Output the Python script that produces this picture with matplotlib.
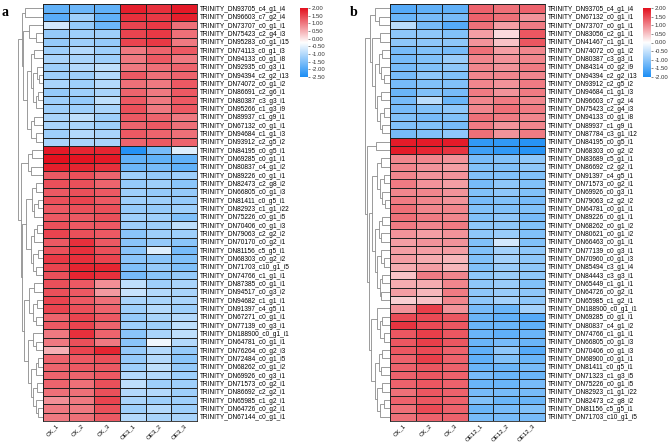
import matplotlib
matplotlib.use("Agg")
import numpy as np
import matplotlib.pyplot as plt
from matplotlib.colors import LinearSegmentedColormap

plt.rcParams["font.family"] = ["Liberation Sans", "DejaVu Sans"]

# ---------------- panel a ----------------
cols_a = ["CK_1", "CK_2", "CK_3", "OE3_1", "OE3_2", "OE3_3"]
genes_a = [
    "DN93705_c4_g1_i4", "DN96603_c7_g2_i4", "DN73707_c0_g1_i1", "DN75423_c2_g4_i3",
    "DN95283_c0_g1_i15", "DN74113_c0_g1_i3", "DN94133_c0_g1_i8", "DN92935_c0_g3_i1",
    "DN94394_c2_g2_i13", "DN74072_c0_g1_i2", "DN86691_c2_g6_i1", "DN80387_c3_g3_i1",
    "DN95266_c1_g3_i9", "DN89937_c1_g9_i1", "DN67132_c0_g1_i1", "DN94684_c1_g1_i3",
    "DN93912_c2_g5_i2", "DN84195_c0_g5_i1", "DN69285_c0_g1_i1", "DN80837_c4_g1_i2",
    "DN89226_c0_g1_i1", "DN82473_c2_g8_i2", "DN66805_c0_g1_i3", "DN81411_c0_g5_i1",
    "DN82923_c1_g1_i22", "DN75226_c0_g1_i5", "DN70406_c0_g1_i3", "DN79063_c2_g2_i2",
    "DN70170_c0_g2_i1", "DN81156_c5_g5_i1", "DN68303_c0_g2_i2", "DN71703_c10_g1_i5",
    "DN74766_c1_g1_i1", "DN87385_c0_g1_i1", "DN94517_c0_g3_i2", "DN94682_c1_g1_i1",
    "DN91397_c4_g5_i1", "DN67271_c0_g1_i1", "DN77139_c0_g3_i1", "DN188900_c0_g1_i1",
    "DN64781_c0_g1_i1", "DN76264_c0_g2_i3", "DN72484_c0_g1_i5", "DN68262_c0_g1_i2",
    "DN69926_c0_g3_i1", "DN71573_c0_g2_i1", "DN86692_c2_g2_i1", "DN65985_c1_g2_i1",
    "DN64726_c0_g2_i1", "DN67144_c0_g1_i1",
]
vals_a = [
    [-1.8, -1.7, -1.8, 1.85, 1.7, 1.9], [-1.9, -1.2, -1.8, 1.7, 1.6, 1.85],
    [-0.7, -1.3, -1.7, 1.5, 1.6, 1.1], [-1.3, -1.2, -1.2, 1.5, 1.6, 1.1],
    [-1.3, -1.2, -1.3, 1.5, 1.6, 1.0], [-1.2, -1.0, -1.2, 1.0, 1.2, 1.3],
    [-1.1, -1.1, -1.2, 1.0, 1.3, 1.0], [-1.2, -1.0, -0.9, 1.0, 1.1, 1.2],
    [-1.2, -1.2, -1.0, 1.3, 1.1, 1.2], [-1.1, -1.2, -1.0, 1.1, 1.0, 1.3],
    [-1.3, -1.2, -1.1, 1.2, 1.0, 1.3], [-1.2, -1.3, -0.9, 1.3, 1.0, 1.3],
    [-1.2, -1.2, -1.1, 1.4, 1.0, 1.3], [-1.1, -0.9, -1.2, 1.3, 1.2, 1.0],
    [-1.1, -1.1, -1.2, 1.2, 1.3, 1.1], [-1.2, -1.0, -1.1, 1.3, 1.2, 1.1],
    [-1.1, -1.1, -1.1, 1.2, 1.3, 1.2], [1.9, 1.8, 1.8, -2.4, -1.6, -0.6],
    [2.0, 1.95, 1.9, -1.8, -1.8, -1.8], [1.85, 1.8, 1.7, -1.7, -1.6, -1.8],
    [1.3, 1.4, 1.2, -1.2, -1.3, -1.2], [1.4, 1.4, 1.2, -1.3, -1.2, -1.4],
    [1.3, 1.4, 1.3, -1.2, -1.3, -1.3], [1.4, 1.5, 1.3, -1.2, -1.2, -1.3],
    [1.3, 1.4, 1.4, -1.3, -1.3, -1.2], [1.3, 1.3, 1.4, -1.2, -1.2, -1.5],
    [1.4, 1.3, 1.3, -1.2, -1.2, -0.9], [1.5, 1.4, 1.3, -1.4, -1.2, -1.2],
    [1.3, 1.7, 1.3, -1.4, -1.3, -1.4], [1.4, 1.7, 1.4, -1.4, -0.6, -1.6],
    [1.6, 1.7, 1.5, -1.4, -1.4, -1.5], [1.5, 1.8, 1.8, -1.5, -1.3, -1.5],
    [1.4, 1.8, 1.7, -1.6, -1.4, -1.3], [1.4, 1.3, 0.8, -0.9, -1.2, -1.1],
    [1.4, 1.3, 0.7, -0.8, -1.0, -1.1], [1.5, 1.3, 1.1, -1.1, -1.1, -1.1],
    [1.5, 1.4, 1.2, -1.2, -1.0, -1.2], [1.2, 1.5, 1.3, -1.3, -1.1, -1.0],
    [1.3, 1.5, 1.2, -1.2, -1.2, -0.9], [1.0, 1.7, 1.2, -1.4, -1.1, -0.9],
    [1.0, 1.4, 1.0, -1.4, -0.4, -1.0], [0.5, 1.5, 1.8, -1.3, -1.0, -1.3],
    [1.2, 1.3, 1.4, -1.3, -1.0, -1.4], [1.2, 1.3, 1.3, -1.2, -0.9, -1.3],
    [1.2, 1.2, 1.3, -1.0, -1.0, -1.2], [1.2, 1.1, 1.4, -0.9, -1.2, -1.2],
    [1.1, 1.1, 1.4, -1.0, -1.0, -1.2], [0.8, 1.0, 1.5, -1.1, -1.2, -1.2],
    [1.0, 1.0, 1.4, -1.2, -1.0, -1.2], [1.0, 1.1, 1.3, -1.0, -1.1, -1.1],
]
# row tree: [merge height, left, right]; leaves are row indices
tree_a = [1.0,
          [0.85, [0.72, 0, 1],
           [0.8, [0.55, 2, [0.3, 3, 4]],
            [0.65, [0.5, [0.35, 5, 6],
                    [0.42, [0.25, 7, [0.18, 8, 9]], [0.3, [0.2, 10, 11], 12]]],
             [0.5, [0.35, 13, 14], [0.3, 15, 16]]]]],
          [0.9, [0.6, [0.45, 17, 18], [0.5, 19, 20]],
           [0.85, [0.7, [0.45, [0.3, 21, 22], [0.35, [0.2, 23, 24], 25]],
                   [0.5, [0.35, [0.25, 26, 27], 28], [0.4, [0.2, 29, 30], [0.3, 31, 32]]]],
            [0.75, [0.55, [0.35, 33, 34], [0.4, [0.25, 35, 36], [0.3, 37, 38]]],
             [0.6, [0.4, 39, [0.3, 40, 41]],
              [0.5, [0.3, [0.2, 42, 43], 44],
               [0.4, [0.25, 45, 46], [0.3, 47, [0.2, 48, 49]]]]]]]]]

# ---------------- panel b ----------------
cols_b = ["CK_1", "CK_2", "CK_3", "OE12_1", "OE12_2", "OE12_3"]
genes_b = [
    "DN93705_c4_g1_i4", "DN67132_c0_g1_i1", "DN73707_c0_g1_i1", "DN83056_c2_g1_i1",
    "DN41467_c1_g1_i1", "DN74072_c0_g1_i2", "DN80387_c3_g3_i1", "DN84314_c0_g2_i9",
    "DN94394_c2_g2_i13", "DN93912_c2_g5_i2", "DN94684_c1_g1_i3", "DN96603_c7_g2_i4",
    "DN75423_c2_g4_i3", "DN94133_c0_g1_i8", "DN89937_c1_g9_i1", "DN87784_c3_g1_i12",
    "DN84195_c0_g5_i1", "DN68303_c0_g2_i2", "DN83689_c5_g1_i1", "DN86692_c2_g2_i1",
    "DN91397_c4_g5_i1", "DN71573_c0_g2_i1", "DN69926_c0_g3_i1", "DN79063_c2_g2_i2",
    "DN64781_c0_g1_i1", "DN89226_c0_g1_i1", "DN68262_c0_g1_i2", "DN80621_c0_g1_i2",
    "DN66463_c0_g1_i1", "DN77139_c0_g3_i1", "DN70960_c0_g1_i3", "DN85494_c3_g1_i4",
    "DN84443_c3_g3_i1", "DN65449_c1_g1_i1", "DN64726_c0_g2_i1", "DN65985_c1_g2_i1",
    "DN188900_c0_g1_i1", "DN69285_c0_g1_i1", "DN80837_c4_g1_i2", "DN74766_c1_g1_i1",
    "DN66805_c0_g1_i3", "DN70406_c0_g1_i3", "DN68900_c0_g1_i1", "DN81411_c0_g5_i1",
    "DN71323_c1_g3_i5", "DN75226_c0_g1_i5", "DN82923_c1_g1_i22", "DN82473_c2_g8_i2",
    "DN81156_c5_g5_i1", "DN71703_c10_g1_i5",
]
vals_b = [
    [-1.5, -1.4, -1.4, 1.3, 1.2, 1.3], [-1.3, -1.2, -1.2, 1.3, 1.2, 0.9],
    [-0.6, -1.2, -1.5, 1.2, 0.8, 1.1], [-1.0, -1.0, -1.1, 0.8, 0.3, 1.4],
    [-1.0, -1.0, -1.0, 0.9, 0.5, 1.4], [-1.2, -1.1, -1.2, 1.2, 0.8, 1.0],
    [-1.2, -1.1, -0.9, 1.0, 0.9, 1.0], [-1.2, -1.1, -1.0, 1.0, 0.9, 1.1],
    [-1.2, -1.0, -1.1, 1.0, 1.0, 1.0], [-1.2, -1.1, -1.1, 1.0, 0.9, 1.1],
    [-1.3, -1.1, -1.2, 1.1, 0.9, 1.1], [-1.2, -0.6, -1.3, 1.0, 1.1, 1.0],
    [-1.2, -1.1, -1.0, 1.0, 1.2, 1.1], [-1.1, -1.2, -1.1, 1.2, 1.1, 1.0],
    [-1.1, -1.1, -1.2, 1.1, 0.9, 1.0], [-1.2, -1.1, -1.0, 1.2, 0.9, 1.1],
    [1.9, 1.9, 1.9, -1.8, -1.8, -1.9], [1.9, 1.8, 1.7, -1.7, -1.8, -1.9],
    [1.0, 1.0, 0.9, -1.2, -1.1, -1.0], [1.0, 0.9, 0.8, -1.1, -1.1, -1.0],
    [1.0, 0.9, 0.9, -1.1, -1.1, -1.1], [1.1, 0.9, 0.8, -1.2, -1.0, -1.1],
    [1.0, 1.0, 0.9, -1.1, -1.0, -1.1], [1.1, 1.0, 0.9, -1.2, -1.1, -1.2],
    [1.2, 1.0, 1.0, -1.1, -1.1, -1.1], [1.2, 1.1, 1.0, -1.1, -1.0, -1.2],
    [1.1, 1.0, 1.1, -1.0, -1.0, -1.1], [0.9, 0.8, 0.9, -1.0, -0.9, -1.1],
    [0.8, 0.9, 0.9, -1.1, -0.4, -1.1], [0.8, 0.8, 0.8, -1.1, -0.8, -1.0],
    [0.8, 0.7, 0.6, -1.1, -0.8, -1.0], [0.7, 0.8, 0.6, -1.1, -0.9, -1.0],
    [0.5, 1.1, 1.0, -1.0, -0.9, -1.0], [0.7, 0.7, 1.0, -1.0, -0.9, -1.1],
    [0.8, 0.6, 1.1, -1.0, -0.9, -1.0], [0.4, 0.5, 1.0, -1.0, -0.8, -1.0],
    [0.9, 1.6, 0.9, -1.2, -1.3, -0.8], [1.5, 1.5, 1.4, -1.3, -1.4, -1.5],
    [1.7, 1.5, 1.4, -1.3, -1.3, -1.4], [1.4, 1.6, 1.4, -1.3, -1.4, -1.3],
    [1.4, 1.6, 1.4, -1.3, -1.2, -1.3], [1.4, 1.5, 1.3, -1.4, -1.0, -1.5],
    [1.3, 1.6, 1.3, -1.4, -1.1, -1.3], [1.3, 1.4, 1.3, -1.3, -1.3, -1.2],
    [1.3, 1.4, 1.3, -1.2, -1.3, -1.3], [1.3, 1.4, 1.3, -1.3, -1.3, -1.2],
    [1.2, 1.4, 1.3, -1.2, -1.2, -1.2], [1.3, 1.4, 1.3, -1.1, -1.3, -1.3],
    [1.2, 1.5, 1.3, -1.3, -1.2, -1.1], [1.2, 1.3, 1.3, -1.2, -1.2, -1.2],
]
tree_b = [1.0,
          [0.8, [0.6, 0, [0.45, 1, 2]],
           [0.7, [0.4, 3, 4],
            [0.6, [0.45, [0.3, 5, 6], [0.35, 7, [0.25, 8, 9]]],
             [0.5, [0.35, 10, 11], [0.4, [0.25, 12, 13], [0.3, 14, 15]]]]]],
          [0.9, [0.55, 16, 17],
           [0.85, [0.7, [0.5, [0.35, 18, 19], [0.4, [0.25, 20, 21], [0.3, 22, [0.2, 23, 24]]]],
                   [0.6, [0.45, [0.3, 25, 26], [0.35, 27, 28]],
                    [0.5, [0.35, 29, [0.25, 30, 31]], [0.4, [0.3, 32, 33], [0.35, 34, 35]]]]],
            [0.75, [0.5, 36, [0.4, [0.3, 37, 38], [0.25, 39, 40]]],
             [0.6, [0.45, [0.3, 41, 42], [0.35, 43, 44]],
              [0.5, [0.3, 45, 46], [0.4, [0.25, 47, 48], 49]]]]]]]

W, H = 669, 446
cmap = LinearSegmentedColormap.from_list("bwr2", ["#1C8EF5", "#FFFFFF", "#E3101E"])


def px(x0, y0, x1, y1):
    return [x0 / W, 1 - y1 / H, (x1 - x0) / W, (y1 - y0) / H]


def draw_tree(ax, node):
    if isinstance(node, int):
        return node + 0.5, 0.0
    h, left, right = node
    yl, hl = draw_tree(ax, left)
    yr, hr = draw_tree(ax, right)
    ax.plot([hl, h, h, hr], [yl, yl, yr, yr], color="#8a8a8a", lw=0.6,
            solid_capstyle="butt", solid_joinstyle="miter")
    return (yl + yr) / 2, h


def panel(fig, vals, genes, cols, tree, hx, dx, cb, vmin, vmax, letter, lx):
    data = np.array(vals)
    n = len(genes)
    ax = fig.add_axes(px(hx[0], 4.3, hx[1], 421))
    ax.pcolormesh(data, cmap=cmap, vmin=vmin, vmax=vmax, edgecolors="#222222", linewidth=0.5)
    ax.set_xlim(0, data.shape[1])
    ax.set_ylim(n, 0)
    ax.yaxis.tick_right()
    ax.set_yticks(np.arange(n) + 0.5)
    ax.set_yticklabels(["TRINITY_" + g for g in genes], fontsize=4.7)
    ax.set_xticks(np.arange(data.shape[1]) + 0.5)
    ax.set_xticklabels(cols, fontsize=4.4, rotation=45, ha="right", rotation_mode="anchor")
    ax.tick_params(axis="y", length=0, pad=2)
    ax.tick_params(axis="x", length=0, pad=1.5)
    for s in ax.spines.values():
        s.set_linewidth(0.6)
        s.set_color("#222222")

    dax = fig.add_axes(px(dx[0], 4.3, dx[1], 421))
    draw_tree(dax, tree)
    dax.set_xlim(1.0, 0.0)
    dax.set_ylim(n, 0)
    dax.axis("off")

    cax = fig.add_axes(px(cb[0], 8, cb[1], 77))
    grad = np.linspace(vmin, vmax, 256).reshape(-1, 1)
    cax.imshow(grad, cmap=cmap, vmin=vmin, vmax=vmax, aspect="auto", origin="lower",
               extent=[0, 1, vmin, vmax])
    ticks = np.arange(vmin, vmax + 0.01, 0.5)
    cax.yaxis.tick_right()
    cax.set_yticks(ticks)
    cax.set_yticklabels([f"{t:.2f}" for t in ticks], fontsize=4.3)
    cax.set_xticks([])
    cax.tick_params(axis="y", length=1.5, width=0.4, pad=1, colors="#333333")
    for s in cax.spines.values():
        s.set_visible(False)

    fig.text(lx / W, 1 - 12 / H, letter, fontsize=10, fontweight="bold",
             family="Liberation Serif", ha="left", va="center")


fig = plt.figure(figsize=(W / 100, H / 100), dpi=100)
panel(fig, vals_a, genes_a, cols_a, tree_a, (43, 197), (18, 43), (300, 308), -2.5, 2.0, "a", 2)
panel(fig, vals_b, genes_b, cols_b, tree_b, (390, 545), (365, 390), (643, 651), -2.0, 2.0, "b", 350)
fig.savefig("out.png", dpi=100)
